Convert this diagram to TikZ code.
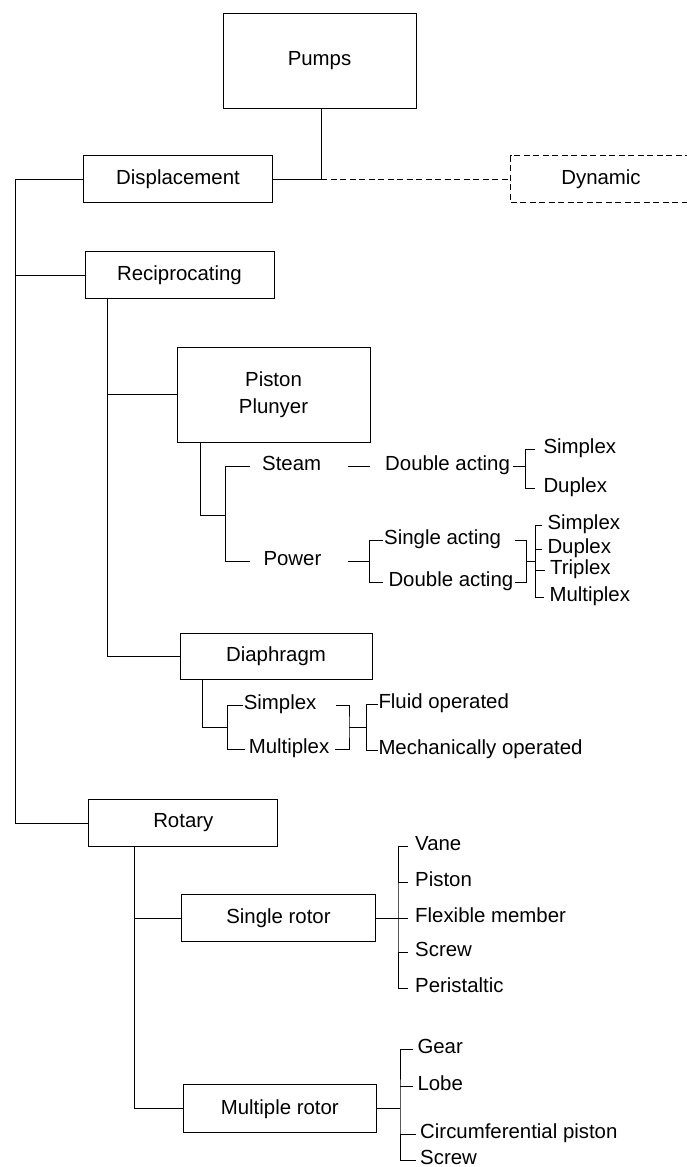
\documentclass[tikz,border=0pt]{standalone}
\usepackage{fontspec}
\setmainfont{Liberation Sans}
\newcommand\diafs{\fontsize{20.4}{27}\selectfont}
\begin{document}
\begin{tikzpicture}[x=1pt,y=-1pt,line width=1pt,
  box/.style={draw, rectangle, minimum width=190pt, minimum height=47pt, inner sep=0pt, align=center, font=\diafs},
  lbl/.style={anchor=west, inner sep=0pt, font=\diafs, text height=0.82em, text depth=0pt},
  dsh/.style={dash pattern=on 6pt off 3.5pt}]
\useasboundingbox (0,0) rectangle (687,1167);
\clip (0,0) rectangle (687,1167);
% boxes
\node[box, minimum width=193pt, minimum height=95pt] (pumps) at (319.5,60.5) {Pumps};
\node[box, minimum width=189.4pt] (disp) at (178,179.2) {Displacement};
\node[box, dsh, minimum width=181pt, minimum height=46.7pt] (dyn) at (601,179.2) {Dynamic};
\node[box, minimum width=189pt] (recip) at (179.5,275) {Reciprocating};
\node[box, minimum width=193pt, minimum height=95pt] (piston) at (273.5,394.5) {Piston\\Plunyer};
\node[box, minimum width=192pt, minimum height=46pt] (diaph) at (276,656) {Diaphragm};
\node[box, minimum width=188.7pt] (rotary) at (183.3,823) {Rotary};
\node[box, minimum width=193.6pt] (single) at (278.5,918) {Single rotor};
\node[box, minimum width=193pt, minimum height=48pt] (multi) at (279.8,1108.8) {Multiple rotor};
% piston / plunger labels
\node[lbl] (steam) at (261.7,466.5) {Steam};
\node[lbl] (power) at (263,561) {Power};
\node[lbl] (sda) at (384.7,466.5) {Double acting};
\node[lbl] (ss1) at (543,449) {Simplex};
\node[lbl] (sd1) at (543,488.3) {Duplex};
\node[lbl] (psa) at (383.7,540.7) {Single acting};
\node[lbl] (pda) at (388,582.3) {Double acting};
\node[lbl] (ps) at (547,525.7) {Simplex};
\node[lbl] (pd) at (547,549) {Duplex};
\node[lbl] (pt) at (549.7,570.7) {Triplex};
\node[lbl] (pm) at (549,597.3) {Multiplex};
% diaphragm labels
\node[lbl] (dsim) at (243.3,705.7) {Simplex};
\node[lbl] (dmul) at (248.3,749) {Multiplex};
\node[lbl] (fluid) at (378,704) {Fluid operated};
\node[lbl] (mech) at (378,750.7) {Mechanically operated};
% rotary labels
\node[lbl] (vane) at (414.7,846.3) {Vane};
\node[lbl] (rpis) at (414.7,882) {Piston};
\node[lbl] (flex) at (414.7,918) {Flexible member};
\node[lbl] (rscr) at (414.7,952) {Screw};
\node[lbl] (peri) at (414.7,988.7) {Peristaltic};
\node[lbl] (gear) at (417,1049.7) {Gear};
\node[lbl] (lobe) at (417,1086.3) {Lobe};
\node[lbl] (circ) at (419.7,1134.7) {Circumferential piston};
\node[lbl] (mscr) at (419.7,1160) {Screw};
% junction coordinates
\coordinate (trk) at (15,823);
\coordinate (pj) at (225.7,515);
\coordinate (sb) at (525.7,466.5);
\coordinate (pb) at (369.7,561);
\coordinate (pr) at (526.3,561);
\coordinate (pq) at (535.7,561);
\coordinate (dj) at (227.7,727.3);
\coordinate (dr) at (349,727);
\coordinate (dq) at (366.6,727);
\coordinate (sr) at (398,918);
\coordinate (mr) at (400,1108.8);
% top
\draw ([xshift=1.5pt]pumps.south) |- (disp.east);
\draw[dsh] ([xshift=1.5pt]pumps.south |- disp.east) -- (dyn.west);
% trunk
\draw (disp.west) -| (trk) -- (rotary.west);
\draw (recip.west) -- (recip.west -| trk);
% reciprocating
\draw ([xshift=22.5pt]recip.south west) |- (piston.west);
\draw ([xshift=22.5pt]recip.south west) |- (diaph.west);
% piston / plunger
\draw ([xshift=24pt]piston.south west) |- (pj);
\draw ([xshift=-12pt]steam.west) -| (pj) |- ([xshift=-13pt]power.west);
\draw ([xshift=26pt]steam.east) -- ([xshift=-15pt]sda.west);
\draw ([xshift=3pt]sda.east) -- (sb);
\draw ([xshift=-8pt]ss1.west) -| (sb) |- ([xshift=-8pt]sd1.west);
\draw ([xshift=26pt]power.east) -- (pb);
\draw ([xshift=-1pt]psa.west) -| (pb) |- ([xshift=-5pt]pda.west);
\draw ([xshift=13pt]psa.east) -| (pr) |- ([xshift=1pt]pda.east);
\draw (pr) -- (pq);
\draw ([xshift=-4.7pt]ps.west) -| (pq) |- ([xshift=-4.7pt]pm.west);
\draw (pq |- pd.west) -- ([xshift=-4.7pt]pd.west);
\draw (pq |- pt.west) -- ([xshift=-4.7pt]pt.west);
% diaphragm
\draw ([xshift=23.3pt]diaph.south west) |- (dj);
\draw (dsim.west) -| (dj) |- ([xshift=-3pt]dmul.west);
\draw ([xshift=19pt]dsim.east) -| (dr) |- ([xshift=5pt]dmul.east);
\draw (dr) -- (dq);
\draw (fluid.west) -| (dq) |- (mech.west);
% rotary
\draw ([xshift=46pt]rotary.south west) |- (single.west);
\draw ([xshift=46pt]rotary.south west) |- (multi.west);
\draw (single.east) -- ([xshift=-6.7pt]flex.west);
\draw ([xshift=-6.7pt]vane.west) -| (sr) |- ([xshift=-6.7pt]peri.west);
\draw (sr |- rpis.west) -- ([xshift=-6.7pt]rpis.west);
\draw (sr |- rscr.west) -- ([xshift=-6.7pt]rscr.west);
\draw (multi.east) -- (mr);
\draw ([xshift=-4pt]gear.west) -| (mr) |- ([xshift=-4pt]mscr.west);
\draw (mr |- lobe.west) -- ([xshift=-4pt]lobe.west);
\draw (mr |- circ.west) -- ([xshift=-4pt]circ.west);
\end{tikzpicture}
\end{document}
